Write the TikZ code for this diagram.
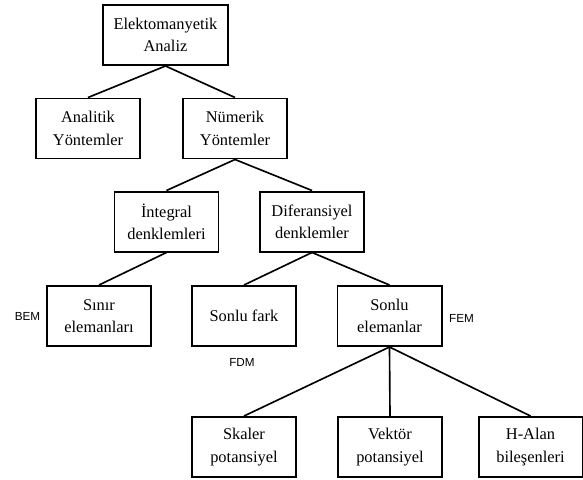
\documentclass[tikz,border=0pt]{standalone}
\usepackage{fontspec}
\setmainfont{Liberation Serif}
\newfontfamily\labfont{Liberation Sans}

\begin{document}
\begin{tikzpicture}[font=\fontsize{14}{19}\selectfont,x=1.000cm,y=1.000cm,
 box/.style={draw,line width=1.7pt,align=center,inner sep=2pt,minimum width=3.12cm,minimum height=1.80cm},
 lab/.style={font=\labfont\fontsize{10}{12}\selectfont,inner sep=1pt},
 link/.style={line width=1.4pt}]
\useasboundingbox (0.000,0.000) rectangle (17.490,-14.370);
\node[box,minimum width=3.75cm] (ea) at (4.965,-1.050) {Elektomanyetik\\Analiz};
\node[box] (an) at (2.640,-3.855) {Analitik\\Yöntemler};
\node[box] (nu) at (7.050,-3.855) {Nümerik\\Yöntemler};
\node[box] (ig) at (4.995,-6.645) {İntegral\\denklemleri};
\node[box] (df) at (9.360,-6.645) {Diferansiyel\\denklemler};
\node[box] (sn) at (2.970,-9.480) {Sınır\\elemanları};
\node[box] (sf) at (7.320,-9.480) {Sonlu fark};
\node[box] (se) at (11.685,-9.480) {Sonlu\\elemanlar};
\node[box] (sk) at (7.320,-13.410) {Skaler\\potansiyel};
\node[box] (vk) at (11.700,-13.410) {Vektör\\potansiyel};
\node[box] (ha) at (15.915,-13.410) {H-Alan\\bileşenleri};
% method abbreviations
\node[lab] (bem) at (0.825,-9.480) {BEM};
\node[lab] (fdm) at (7.260,-10.860) {FDM};
\node[lab] (fem) at (13.845,-9.540) {FEM};
\draw[link] (ea.south) -- (an.north);
\draw[link] (ea.south) -- (nu.north);
\draw[link] (nu.south) -- (ig.north);
\draw[link] (nu.south) -- (df.north);
\draw[link] (ig.south) -- (sn.north);
\draw[link] (df.south) -- (sf.north);
\draw[link] (df.south) -- (se.north);
\draw[link] (se.south) -- (sk.north);
\draw[link] (se.south) -- (vk.north);
\draw[link] (se.south) -- (ha.north);
\end{tikzpicture}
\end{document}
